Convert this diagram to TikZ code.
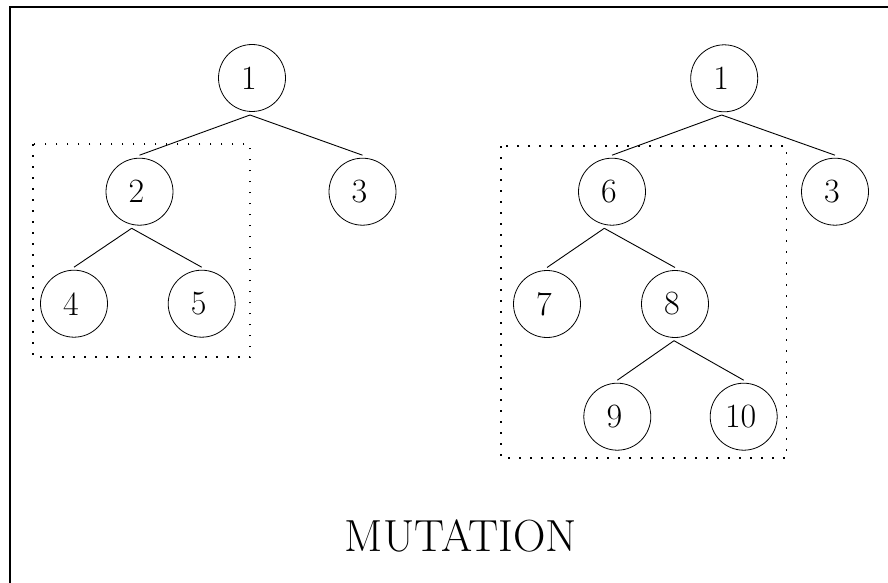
\documentclass[tikz,border=0pt]{standalone}
\usetikzlibrary{calc}
\newcommand\tlab[1]{\raisebox{-1pt}{\kern-3pt#1}}
\begin{document}
\begin{tikzpicture}[x=0.5pt,y=-0.5pt,
  tnode/.style={draw,circle,line width=0.4pt,minimum size=33.5pt,inner sep=0pt,outer sep=1.5pt,font=\fontsize{17}{20}\selectfont},
  edge/.style={line width=0.45pt},
  selbox/.style={line width=0.9pt,dash pattern=on 0.9pt off 4.6pt},
  frameline/.style={line width=0.7pt}]
\useasboundingbox (0,0) rectangle (888,583);
\draw[frameline] (10,583) -- (10,7) -- (888,7);
% left tree
\node[tnode] (l1) at (252,78) {\tlab{1}};
\node[tnode] (l2) at (139.5,191.7) {\tlab{2}};
\node[tnode] (l3) at (362.5,191.7) {\tlab{3}};
\node[tnode] (l4) at (74,303.7) {\tlab{4}};
\node[tnode] (l5) at (201.7,303.7) {\tlab{5}};
\coordinate (la1) at (250,115);
\coordinate (la2) at (131.7,228.3);
\draw[edge] (la1) -- (l2.north);
\draw[edge] (la1) -- (l3.north);
\draw[edge] (la2) -- (l4.north);
\draw[edge] (la2) -- (l5.north);
\draw[selbox] (33.3,144) rectangle (250,357.3);
% right tree
\node[tnode] (r1) at (724.2,78.3) {\tlab{1}};
\node[tnode] (r6) at (612,191.7) {\tlab{6}};
\node[tnode] (r3) at (835,191.7) {\tlab{3}};
\node[tnode] (r7) at (547,304) {\tlab{7}};
\node[tnode] (r8) at (675,304) {\tlab{8}};
\node[tnode] (r9) at (617.3,416.7) {\tlab{9}};
\node[tnode] (r10) at (743.7,416.7) {\tlab{10}};
\coordinate (ra1) at (721.7,115);
\coordinate (ra6) at (604.3,228.3);
\coordinate (ra8) at (674,340.7);
\draw[edge] (ra1) -- (r6.north);
\draw[edge] (ra1) -- (r3.north);
\draw[edge] (ra6) -- (r7.north);
\draw[edge] (ra6) -- (r8.north);
\draw[edge] (ra8) -- (r9.north);
\draw[edge] (ra8) -- (r10.north);
\draw[selbox] (501,146) rectangle (786.5,458);
% label
\node[font=\fontsize{22.5}{26}\selectfont,inner sep=0pt] (lab) at (461,536) {MUTATION};
\end{tikzpicture}
\end{document}
